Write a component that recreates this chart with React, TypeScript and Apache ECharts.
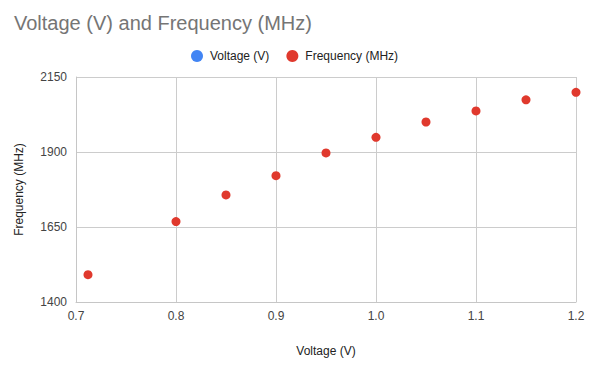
import React, { useEffect, useRef } from "react";
import * as echarts from "echarts";

const voltage = [0.712, 0.8, 0.85, 0.9, 0.95, 1.0, 1.05, 1.1, 1.15, 1.2];
const frequency = [1491, 1668, 1757, 1821, 1897, 1949, 2000, 2037, 2074, 2099];
const xTicks = { min: 0.7, max: 1.2, interval: 0.1 };
const yTicks = { min: 1400, max: 2150, interval: 250 };

const FONT = "'Liberation Sans', Arial, sans-serif";

export default function App() {
  const ref = useRef<HTMLDivElement>(null);
  useEffect(() => {
    if (!ref.current) return;
    const chart = echarts.init(ref.current, undefined, { renderer: "svg" });
    chart.setOption({
      animation: false,
      backgroundColor: "#ffffff",
      textStyle: { fontFamily: FONT },
      title: {
        text: "Voltage (V) and Frequency (MHz)",
        left: 9,
        top: 8,
        textStyle: { fontSize: 20, fontWeight: "normal", color: "#757575", fontFamily: FONT },
      },
      legend: {
        left: 186,
        top: 45,
        icon: "circle",
        itemWidth: 12,
        itemHeight: 12,
        itemGap: 17,
        textStyle: { fontSize: 12, color: "#222222", fontFamily: FONT, padding: [0, 0, 0, 2] },
        data: ["Voltage (V)", "Frequency (MHz)"],
      },
      grid: { left: 76, right: 18, top: 77, bottom: 65, containLabel: false },
      xAxis: {
        type: "value",
        min: xTicks.min,
        max: xTicks.max,
        interval: xTicks.interval,
        name: "Voltage (V)",
        nameLocation: "middle",
        nameGap: 43,
        nameTextStyle: { fontSize: 12, color: "#222222", fontFamily: FONT },
        axisLine: { show: true, lineStyle: { color: "#c6c6c6" } },
        axisTick: { show: false },
        axisLabel: {
          margin: 8,
          fontSize: 12,
          color: "#444444",
          fontFamily: FONT,
          formatter: (v: number) => v.toFixed(1),
        },
        splitLine: { show: true, lineStyle: { color: "#cccccc" } },
      },
      yAxis: {
        type: "value",
        min: yTicks.min,
        max: yTicks.max,
        interval: yTicks.interval,
        name: "Frequency (MHz)",
        nameLocation: "middle",
        nameGap: 51,
        nameTextStyle: { fontSize: 12, color: "#222222", fontFamily: FONT },
        axisLine: { show: true, lineStyle: { color: "#c6c6c6" } },
        axisTick: { show: false },
        axisLabel: {
          margin: 9,
          fontSize: 12,
          color: "#444444",
          fontFamily: FONT,
          formatter: (v: number) => String(v),
        },
        splitLine: { show: true, lineStyle: { color: "#cccccc" } },
      },
      series: [
        {
          name: "Voltage (V)",
          type: "scatter",
          data: [],
          itemStyle: { color: "#4285f4", opacity: 1 },
        },
        {
          name: "Frequency (MHz)",
          type: "scatter",
          symbolSize: 9,
          clip: true,
          itemStyle: { color: "#e0392d", opacity: 1 },
          data: voltage.map((v, i) => [v, frequency[i]]),
        },
      ],
    });
    return () => chart.dispose();
  }, []);
  return <div ref={ref} style={{ width: 594, height: 367, position: "absolute", left: 0, top: 0 }} />;
}
